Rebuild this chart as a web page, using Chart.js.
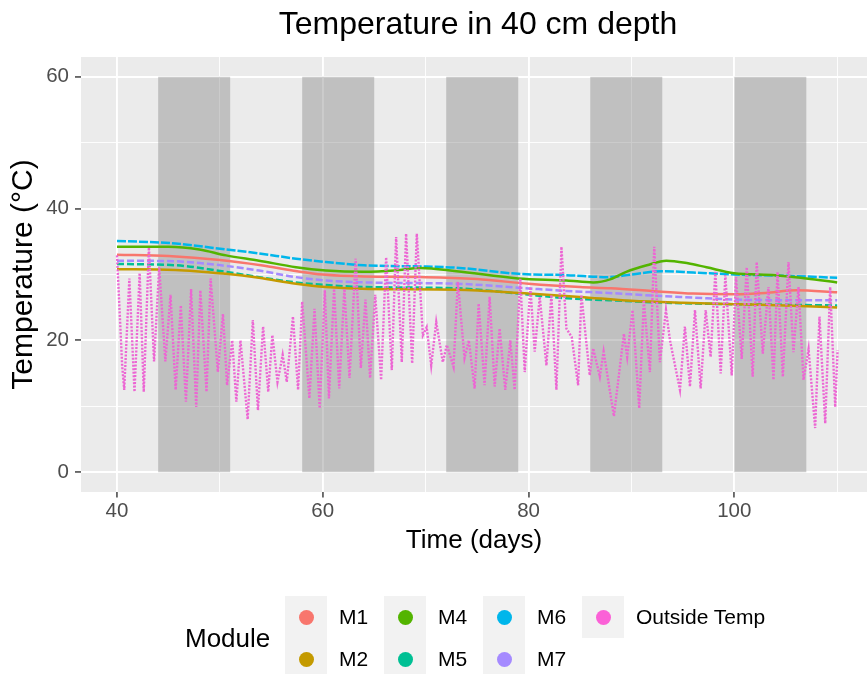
<!DOCTYPE html>
<html>
<head>
<meta charset="utf-8">
<script src="https://cdn.jsdelivr.net/npm/chart.js@4.4.1/dist/chart.umd.min.js"></script>
<style>
    body { margin: 0; background: #fff; font-family: "Liberation Sans", Arial, sans-serif; }
    #wrap { position: relative; width: 867px; height: 674px; overflow: hidden; }
    #chart { position: absolute; left: 0; top: 0; }
    .txt { position: absolute; white-space: nowrap; color: #000; }
    #title { font-size: 32px; line-height: 38px; top: 4px; left: 478px; transform: translateX(-50%); }
    #legendTitle { font-size: 26px; line-height: 30px; left: 185px; top: 623px; }
    .key { position: absolute; width: 42px; height: 42px; background: #f2f2f2; }
    .dot { position: absolute; width: 15px; height: 15px; border-radius: 50%; left: 13.5px; top: 13.5px; }
    .lab { font-size: 21px; line-height: 24px; }
</style>
</head>
<body>
<div id="wrap">
    <canvas id="chart" width="867" height="674"></canvas>
    <div id="title" class="txt">Temperature in 40 cm depth</div>
    <div id="legendTitle" class="txt">Module</div>
    <div id="legend"></div>
</div>
<script>
// module series (day, temperature)
var m1Days = [40, 45, 50, 54, 57.5, 60, 64, 70, 75, 80, 85, 88, 92, 96, 100, 103, 106, 110];
var m1Temp = [33.0, 32.8, 32.2, 31.4, 30.5, 30.0, 29.7, 29.6, 29.3, 28.6, 28.1, 27.9, 27.5, 27.1, 27.0, 27.2, 27.6, 27.3];

var m2Days = [40, 45.7, 50.6, 53.8, 57.4, 60.3, 64.5, 73, 80, 85, 90, 95, 100, 105, 110];
var m2Temp = [30.8, 30.7, 30.1, 29.5, 28.6, 28.1, 27.8, 27.7, 27.1, 26.6, 26.0, 25.7, 25.5, 25.3, 25.0];

var m4Days = [40, 45, 48, 50.6, 53.8, 57.4, 60.3, 64, 67, 69.5, 73, 79, 83.7, 86.3, 88, 89.5, 91.5, 93.4, 95.5, 97.3, 100, 104, 107, 110];
var m4Temp = [34.2, 34.2, 33.8, 32.9, 32.1, 31.1, 30.6, 30.4, 30.6, 31.0, 30.5, 29.4, 29.1, 28.8, 29.3, 30.4, 31.4, 32.1, 31.7, 31.1, 30.2, 29.9, 29.4, 28.8];

var m5Days = [40, 45.7, 50.6, 53.8, 57.4, 60.3, 64, 73, 79, 83.7, 87.8, 92, 96, 100, 105, 110];
var m5Temp = [31.6, 31.4, 30.4, 29.6, 28.8, 28.4, 28.1, 27.9, 27.1, 26.4, 26.1, 25.8, 25.6, 25.5, 25.4, 25.3];

var m6Days = [40, 45.7, 50.6, 53.8, 57.4, 60.3, 64, 70, 73.3, 79, 83.7, 87.8, 90, 93, 96, 100, 105, 110];
var m6Temp = [35.1, 34.7, 33.8, 33.2, 32.4, 31.9, 31.4, 31.2, 31.0, 30.1, 29.9, 29.6, 30.0, 30.5, 30.3, 30.0, 29.8, 29.5];

var m7Days = [40, 45.7, 50.6, 53.8, 57.4, 60.3, 64, 73, 79, 83.7, 87.8, 92, 96, 100, 105, 110];
var m7Temp = [32.1, 32.0, 31.3, 30.6, 29.6, 29.1, 28.8, 28.6, 28.0, 27.5, 27.2, 26.8, 26.5, 26.2, 26.1, 26.1];

// outside temperature, daily highs and lows
var outsideDays = [40.0, 40.5, 40.7, 41.2, 41.7, 42.2, 42.6, 43.1, 43.6, 44.1, 44.7, 45.2, 45.7, 46.2, 46.7, 47.2, 47.7, 48.1, 48.7, 49.1,
    49.8, 50.3, 50.7, 51.2, 51.6, 52.0, 52.7, 53.2, 53.7, 54.2, 54.7, 55.1, 55.6, 56.1, 56.5, 57.1, 57.6, 58.0, 58.7, 59.2,
    59.7, 60.2, 60.6, 61.1, 61.6, 62.1, 62.6, 63.2, 63.7, 64.15, 64.6, 65.1, 65.67, 66.16, 66.71, 67.13, 67.68, 68.1, 68.69, 69.14,
    69.73, 70.1, 70.54, 71.03, 71.67, 72.06, 72.71, 73.13, 73.78, 74.2, 74.76, 75.15, 75.73, 76.22, 76.71, 77.19, 77.74, 78.23, 78.65, 79.2,
    79.63, 80.18, 80.6, 81.09, 81.74, 82.22, 82.71, 83.2, 83.68, 84.2, 84.82, 85.14, 85.95, 86.28, 86.93, 87.3, 88.3, 89.27, 89.59, 90.11,
    90.76, 91.21, 91.8, 92.22, 92.77, 93.36, 93.75, 94.72, 95.2, 95.69, 96.18, 96.73, 97.22, 97.7, 98.16, 98.68, 99.13, 99.75, 100.17, 100.72,
    101.21, 101.79, 102.18, 102.77, 103.32, 103.81, 104.2, 104.72, 105.27, 105.75, 106.24, 106.73, 107.22, 107.86, 108.28, 108.84, 109.32, 109.81, 110.04];
var outsideTemp = [32.9, 16.2, 12.5, 29.4, 12.2, 30.2, 12.2, 34.1, 16.8, 31.1, 16.8, 26.9, 12.5, 25.3, 10.7, 27.8, 9.9, 27.6, 12.2, 29.4,
    15.2, 24.0, 13.2, 20.0, 10.7, 20.0, 8.0, 23.1, 9.4, 22.1, 12.2, 20.8, 13.7, 17.8, 13.7, 23.6, 12.5, 25.9, 11.2, 24.8,
    9.7, 27.6, 11.2, 27.8, 12.7, 27.8, 14.3, 32.4, 15.8, 26.2, 14.3, 26.9, 14.0, 32.6, 15.5, 35.7, 16.7, 36.2, 16.5, 36.2,
    20.8, 22.0, 16.2, 22.8, 16.7, 19.3, 16.0, 28.9, 17.3, 20.0, 12.7, 25.6, 13.2, 26.6, 13.0, 21.8, 12.5, 20.0, 12.5, 29.4,
    15.2, 28.1, 18.3, 26.6, 16.2, 26.9, 12.5, 34.2, 21.8, 20.5, 13.2, 26.9, 14.7, 18.8, 14.5, 18.3, 8.5, 21.0, 17.5, 24.6,
    9.7, 26.1, 15.2, 34.2, 16.7, 24.6, 20.0, 12.5, 22.1, 13.0, 24.6, 12.7, 24.6, 17.5, 30.4, 15.0, 29.9, 14.7, 29.6, 17.2,
    31.1, 14.5, 31.9, 18.0, 28.1, 14.0, 30.4, 14.5, 31.9, 18.2, 28.1, 14.0, 18.7, 6.7, 23.6, 7.4, 28.1, 9.9, 18.5];

// shaded periods
var bandStarts = [44, 58, 72, 86, 100];
var bandEnds = [51, 65, 79, 93, 107];
var bandLow = 0;
var bandHigh = 60;

var xTicks = [40, 50, 60, 70, 80, 90, 100, 110];
var yTicks = [0, 10, 20, 30, 40, 50, 60];

var moduleNames = ["M1", "M2", "M4", "M5", "M6", "M7"];
var moduleColors = ["#F8766D", "#C49A00", "#53B400", "#00C094", "#00B6EB", "#A58AFF"];
var outsideColor = "#EC66D3";

var fontFamily = '"Liberation Sans", Arial, sans-serif';

function toPoints(days, temps) {
    var pts = [];
    for (var i = 0; i < days.length; i++) {
        pts.push({ x: days[i], y: temps[i] });
    }
    return pts;
}

var moduleDays = [m1Days, m2Days, m4Days, m5Days, m6Days, m7Days];
var moduleTemps = [m1Temp, m2Temp, m4Temp, m5Temp, m6Temp, m7Temp];
var moduleDash = [[], [], [], [7, 3], [9, 2], [7, 3]];

var datasets = [];
datasets.push({
    label: "Outside Temp",
    data: toPoints(outsideDays, outsideTemp),
    borderColor: outsideColor,
    borderWidth: 2.4,
    borderDash: [2, 1.5],
    pointRadius: 0,
    tension: 0,
    order: 0
});
for (var i = 0; i < moduleNames.length; i++) {
    datasets.push({
        label: moduleNames[i],
        data: toPoints(moduleDays[i], moduleTemps[i]),
        borderColor: moduleColors[i],
        borderWidth: 2.5,
        borderDash: moduleDash[i],
        pointRadius: 0,
        cubicInterpolationMode: 'monotone',
        order: 1 + i
    });
}

var panelPlugin = {
    id: 'panel',
    beforeDraw: function (chart) {
        var a = chart.chartArea;
        var ctx = chart.ctx;
        ctx.save();
        ctx.fillStyle = '#EBEBEB';
        ctx.fillRect(a.left, a.top, a.right - a.left, a.bottom - a.top);
        ctx.restore();
    },
    beforeDatasetsDraw: function (chart) {
        var x = chart.scales.x, y = chart.scales.y;
        var ctx = chart.ctx;
        ctx.save();
        ctx.fillStyle = 'rgba(127,127,127,0.4)';
        for (var i = 0; i < bandStarts.length; i++) {
            var x0 = x.getPixelForValue(bandStarts[i]);
            var x1 = x.getPixelForValue(bandEnds[i]);
            var y0 = y.getPixelForValue(bandHigh);
            var y1 = y.getPixelForValue(bandLow);
            ctx.fillRect(x0, y0, x1 - x0, y1 - y0);
        }
        ctx.restore();
    }
};

function isMajor(v) { return v % 20 === 0; }

var ctx = document.getElementById('chart');
var myChart = new Chart(ctx, {
    type: 'line',
    data: { datasets: datasets },
    plugins: [panelPlugin],
    options: {
        responsive: false,
        devicePixelRatio: 1,
        animation: false,
        layout: { padding: { top: 57, right: 0, bottom: 112, left: 0 } },
        plugins: {
            legend: { display: false },
            tooltip: { enabled: false },
            title: { display: false }
        },
        scales: {
            x: {
                type: 'linear',
                min: 36.5,
                max: 112.9,
                afterBuildTicks: function (scale) {
                    scale.ticks = xTicks.map(function (v) { return { value: v }; });
                },
                afterFit: function (scale) { scale.height = 70; },
                ticks: {
                    autoSkip: false,
                    maxRotation: 0,
                    padding: 2,
                    color: '#4D4D4D',
                    font: { family: fontFamily, size: 20.5 },
                    callback: function (v) { return isMajor(v) ? v : ''; }
                },
                grid: {
                    color: '#FFFFFF',
                    lineWidth: function (c) { return isMajor(c.tick.value) ? 1.9 : 0.9; },
                    tickColor: function (c) { return isMajor(c.tick.value) ? '#333333' : 'rgba(0,0,0,0)'; },
                    tickWidth: 1.4,
                    tickLength: 5.5
                },
                border: { display: false },
                title: {
                    display: true,
                    text: 'Time (days)',
                    color: '#000',
                    font: { family: fontFamily, size: 26 },
                    padding: { top: 0, bottom: 5.4 }
                }
            },
            y: {
                type: 'linear',
                min: -3,
                max: 63,
                afterBuildTicks: function (scale) {
                    scale.ticks = yTicks.map(function (v) { return { value: v }; });
                },
                afterFit: function (scale) { scale.width = 81; },
                ticks: {
                    autoSkip: false,
                    padding: 6,
                    color: '#4D4D4D',
                    font: { family: fontFamily, size: 20.5 },
                    callback: function (v) { return isMajor(v) ? v : ''; }
                },
                grid: {
                    color: '#FFFFFF',
                    lineWidth: function (c) { return isMajor(c.tick.value) ? 1.9 : 0.9; },
                    tickColor: function (c) { return isMajor(c.tick.value) ? '#333333' : 'rgba(0,0,0,0)'; },
                    tickWidth: 1.4,
                    tickLength: 6
                },
                border: { display: false },
                title: {
                    display: true,
                    text: 'Temperature (°C)',
                    color: '#000',
                    font: { family: fontFamily, size: 30 },
                    padding: { top: 6, bottom: 0 }
                }
            }
        }
    }
});

// ggplot-style legend: keys go down columns
function buildLegend() {
    var items = [];
    for (var i = 0; i < moduleNames.length; i++) {
        items.push({ name: moduleNames[i], color: moduleColors[i] });
    }
    items.push({ name: "Outside Temp", color: "#FB61D7" });

    var colLeft = [285, 384, 483, 582];
    var rowTop = [596, 638];
    var holder = document.getElementById('legend');
    for (var k = 0; k < items.length; k++) {
        var col = Math.floor(k / 2);
        var row = k % 2;
        var key = document.createElement('div');
        key.className = 'key';
        key.style.left = colLeft[col] + 'px';
        key.style.top = rowTop[row] + 'px';
        var dot = document.createElement('div');
        dot.className = 'dot';
        dot.style.background = items[k].color;
        key.appendChild(dot);
        holder.appendChild(key);

        var lab = document.createElement('div');
        lab.className = 'txt lab';
        lab.textContent = items[k].name;
        lab.style.left = (colLeft[col] + 54) + 'px';
        lab.style.top = (rowTop[row] + 9) + 'px';
        holder.appendChild(lab);
    }
}
buildLegend();
</script>
</body>
</html>
